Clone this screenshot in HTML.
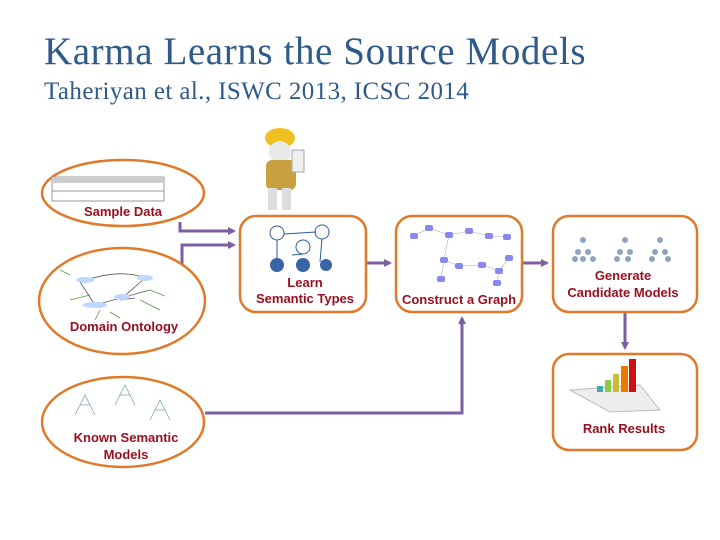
<!DOCTYPE html>
<html><head><style>
body{margin:0;width:720px;height:540px;background:#fff;overflow:hidden;position:relative;font-family:"Liberation Sans",sans-serif}
.t{position:absolute;font-family:"Liberation Serif",serif;color:#2f5a8a;white-space:nowrap}
.lbl{font-family:"Liberation Sans",sans-serif;font-weight:bold;fill:#9b1020;font-size:13px;text-anchor:middle}
</style></head><body>
<div class="t" style="left:44px;top:29px;font-size:39px;letter-spacing:0.6px">Karma Learns the Source Models</div>
<div class="t" style="left:44px;top:78px;font-size:25px;letter-spacing:0.4px">Taheriyan et al., ISWC 2013, ICSC 2014</div>
<svg width="720" height="540" style="position:absolute;left:0;top:0">
<defs><marker id="a" markerWidth="8" markerHeight="8" refX="6" refY="4" orient="auto" markerUnits="userSpaceOnUse"><path d="M0,0L8,4L0,8z" fill="#7b5fa0"/></marker></defs>
<g fill="none" stroke="#7b5fa0" stroke-width="3">
<path d="M180 222V231H234" marker-end="url(#a)"/>
<path d="M182 267V245H234" marker-end="url(#a)"/>
<path d="M366 263H390" marker-end="url(#a)"/>
<path d="M522 263H547" marker-end="url(#a)"/>
<path d="M625 312V348" marker-end="url(#a)"/>
<path d="M205 413H462V318" marker-end="url(#a)"/>
</g>
<g fill="#fff" stroke="#e07a2a" stroke-width="2.5">
<ellipse cx="123" cy="193" rx="81" ry="33"/>
<ellipse cx="122" cy="301" rx="83" ry="53"/>
<ellipse cx="123" cy="422" rx="81" ry="45"/>
<rect x="240" y="216" width="126" height="96" rx="16"/>
<rect x="396" y="216" width="126" height="96" rx="16"/>
<rect x="553" y="216" width="144" height="96" rx="16"/>
<rect x="553" y="354" width="144" height="96" rx="16"/>
</g>
<rect x="52" y="177" width="112" height="24" fill="#fff" stroke="#999"/>
<rect x="52" y="177" width="112" height="6" fill="#ccc"/>
<line x1="52" y1="191" x2="164" y2="191" stroke="#999"/>
<g stroke="#556" stroke-width="0.8" fill="none"><path d="M80 282Q120 268 145 278M80 282L95 305M145 278L120 300M120 300L135 298M95 305L150 290"/></g>
<g stroke="#5a9a4a" stroke-width="0.8" fill="none"><path d="M70 275L60 270M90 295L70 300M100 310L95 320M150 290L165 296M140 300L160 310M110 312L120 318"/></g>
<g fill="#bcd8ff"><ellipse cx="85" cy="280" rx="9" ry="3"/><ellipse cx="145" cy="278" rx="8" ry="3"/><ellipse cx="95" cy="305" rx="12" ry="3"/><ellipse cx="122" cy="297" rx="8" ry="3"/></g>
<g stroke="#7aa" stroke-width="0.8" fill="none"><path d="M75 415L85 395L95 415M80 405L90 405M115 405L125 385L135 405M120 395L130 395M150 420L160 400L170 420M155 410L165 410"/></g>
<g stroke="#2f5a9a" fill="none"><circle cx="277" cy="233" r="7"/><circle cx="322" cy="232" r="7"/><circle cx="303" cy="247" r="7"/><path d="M284 234L316 232M277 240V262M292 255L303 254M322 239L320 262"/></g>
<g fill="#3a64a8"><circle cx="277" cy="265" r="7"/><circle cx="303" cy="265" r="7"/><circle cx="326" cy="265" r="6"/></g>
<g stroke="#aab" stroke-width="0.6" fill="none"><path d="M414 236L429 228L449 235L469 231L489 236L507 237M444 260L459 266L482 265L499 271L509 258M441 279L444 260M497 283L499 271M449 235L444 260"/></g>
<g fill="#8888ee"><rect x="410" y="233" width="8" height="6" rx="2"/><rect x="425" y="225" width="8" height="6" rx="2"/><rect x="445" y="232" width="8" height="6" rx="2"/><rect x="465" y="228" width="8" height="6" rx="2"/><rect x="485" y="233" width="8" height="6" rx="2"/><rect x="503" y="234" width="8" height="6" rx="2"/><rect x="440" y="257" width="8" height="6" rx="2"/><rect x="455" y="263" width="8" height="6" rx="2"/><rect x="478" y="262" width="8" height="6" rx="2"/><rect x="495" y="268" width="8" height="6" rx="2"/><rect x="505" y="255" width="8" height="6" rx="2"/><rect x="437" y="276" width="8" height="6" rx="2"/><rect x="493" y="280" width="8" height="6" rx="2"/></g>
<g fill="#8fa5bf"><circle cx="583" cy="240" r="3"/><circle cx="625" cy="240" r="3"/><circle cx="660" cy="240" r="3"/><circle cx="578" cy="252" r="3"/><circle cx="588" cy="252" r="3"/><circle cx="620" cy="252" r="3"/><circle cx="630" cy="252" r="3"/><circle cx="655" cy="252" r="3"/><circle cx="665" cy="252" r="3"/><circle cx="575" cy="259" r="3"/><circle cx="583" cy="259" r="3"/><circle cx="593" cy="259" r="3"/><circle cx="617" cy="259" r="3"/><circle cx="628" cy="259" r="3"/><circle cx="652" cy="259" r="3"/><circle cx="668" cy="259" r="3"/></g>
<path d="M570 390L640 385L660 410L610 412Z" fill="#eee" stroke="#bbb"/>
<rect x="597" y="386" width="6" height="6" fill="#4aa"/><rect x="605" y="380" width="6" height="12" fill="#8c4"/><rect x="613" y="374" width="6" height="18" fill="#cb3"/><rect x="621" y="366" width="7" height="26" fill="#e70"/><rect x="629" y="359" width="7" height="33" fill="#c11"/>
<text class="lbl" x="123" y="216">Sample Data</text>
<text class="lbl" x="124" y="331">Domain Ontology</text>
<text class="lbl" x="126" y="442">Known Semantic</text>
<text class="lbl" x="126" y="459">Models</text>
<text class="lbl" x="305" y="287">Learn</text>
<text class="lbl" x="305" y="303">Semantic Types</text>
<text class="lbl" x="459" y="304">Construct a Graph</text>
<text class="lbl" x="623" y="280">Generate</text>
<text class="lbl" x="623" y="297">Candidate Models</text>
<text class="lbl" x="624" y="433">Rank Results</text>
<ellipse cx="280" cy="138" rx="15" ry="10" fill="#f0c020"/>
<circle cx="280" cy="152" r="11" fill="#e8e8e8"/>
<rect x="266" y="160" width="30" height="30" rx="6" fill="#c9a040"/>
<rect x="268" y="188" width="9" height="22" fill="#ddd"/><rect x="282" y="188" width="9" height="22" fill="#ddd"/>
<rect x="292" y="150" width="12" height="22" fill="#eee" stroke="#aaa"/>
</svg>
</body></html>
